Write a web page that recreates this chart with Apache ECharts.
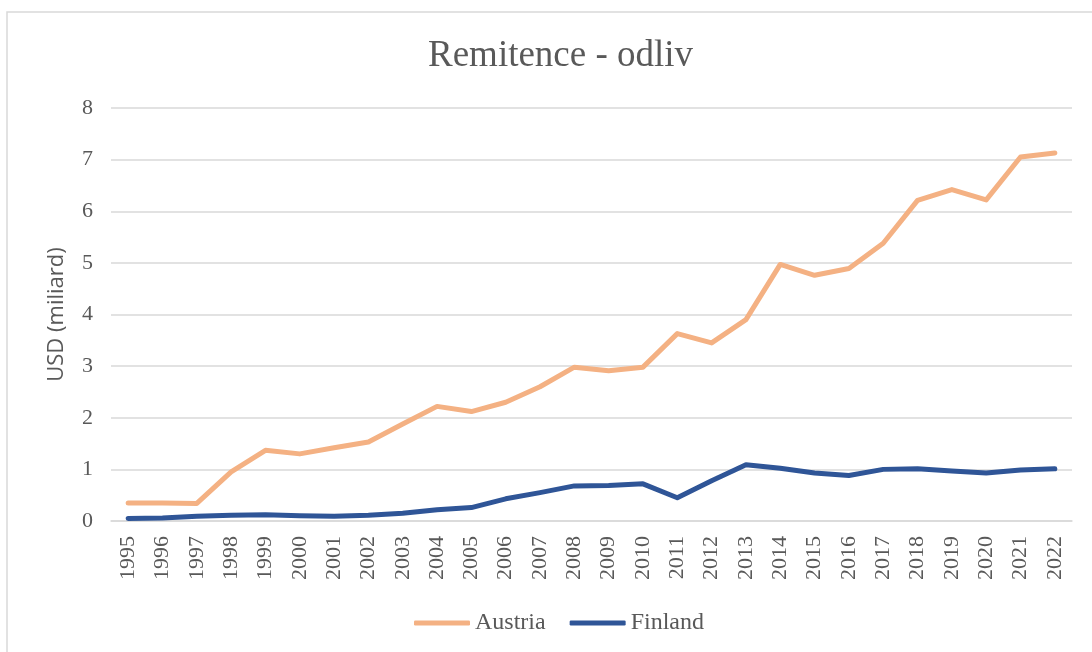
<!DOCTYPE html>
<html>
<head>
<meta charset="utf-8">
<script src="https://cdn.jsdelivr.net/npm/echarts@6/dist/echarts.min.js"></script>
<style>
  html, body { margin: 0; padding: 0; background: #fff; }
  #chart { width: 1092px; height: 652px; }
</style>
</head>
<body>
<div id="chart"></div>
<script>
var years = ['1995', '1996', '1997', '1998', '1999', '2000', '2001', '2002', '2003', '2004',
    '2005', '2006', '2007', '2008', '2009', '2010', '2011', '2012', '2013', '2014',
    '2015', '2016', '2017', '2018', '2019', '2020', '2021', '2022'];
var austria = [0.35, 0.35, 0.34, 0.95, 1.37, 1.30, 1.42, 1.53, 1.88, 2.22,
    2.12, 2.30, 2.60, 2.98, 2.91, 2.98, 3.63, 3.45, 3.90, 4.97,
    4.76, 4.89, 5.38, 6.21, 6.42, 6.22, 7.05, 7.13];
var finland = [0.05, 0.06, 0.09, 0.11, 0.12, 0.10, 0.09, 0.11, 0.15, 0.22,
    0.26, 0.43, 0.55, 0.68, 0.69, 0.72, 0.45, 0.78, 1.09, 1.02,
    0.93, 0.88, 1.00, 1.01, 0.97, 0.93, 0.99, 1.01];

var chartDom = document.getElementById('chart');
var myChart = echarts.init(chartDom);
var serif = '"Liberation Serif", "Times New Roman", serif';
var textGray = '#595959';

var option = {
    animation: false,
    graphic: [
        {
            type: 'rect',
            shape: { x: 7, y: 12, width: 1200, height: 800 },
            style: { fill: 'none', stroke: '#d9d9d9', lineWidth: 1.5 },
            silent: true
        }
    ],
    title: {
        text: 'Remitence - odliv',
        left: 423,
        top: 33,
        textStyle: {
            fontFamily: serif,
            fontSize: 37,
            fontWeight: 'normal',
            color: textGray
        }
    },
    legend: {
        bottom: 12,
        left: 409,
        itemWidth: 56,
        itemHeight: 5,
        itemGap: 24,
        icon: 'roundRect',
        textStyle: {
            fontFamily: serif,
            fontSize: 24,
            color: textGray
        },
        data: ['Austria', 'Finland']
    },
    grid: {
        left: 111,
        right: 20,
        top: 108,
        bottom: 131
    },
    xAxis: {
        type: 'category',
        data: years,
        boundaryGap: true,
        axisLine: { lineStyle: { color: '#d9d9d9', width: 1.5 } },
        axisTick: { show: false },
        axisLabel: {
            rotate: 90,
            margin: 15,
            fontFamily: serif,
            fontSize: 22,
            color: textGray
        }
    },
    yAxis: {
        type: 'value',
        min: 0,
        max: 8,
        interval: 1,
        name: 'USD (miliard)',
        nameLocation: 'middle',
        nameGap: 43,
        nameTextStyle: {
            fontFamily: '"Open Sans", "Liberation Sans", sans-serif',
            fontSize: 22,
            color: textGray
        },
        axisLine: { show: false },
        axisTick: { show: false },
        splitLine: { lineStyle: { color: '#d9d9d9', width: 1.5 } },
        axisLabel: {
            margin: 18,
            fontFamily: serif,
            fontSize: 22,
            color: textGray
        }
    },
    series: [
        {
            name: 'Austria',
            type: 'line',
            data: austria,
            symbol: 'none',
            lineStyle: { color: '#F4B183', width: 5, cap: 'round', join: 'round' },
            itemStyle: { color: '#F4B183' }
        },
        {
            name: 'Finland',
            type: 'line',
            data: finland,
            symbol: 'none',
            lineStyle: { color: '#2F5597', width: 5, cap: 'round', join: 'round' },
            itemStyle: { color: '#2F5597' }
        }
    ]
};

option && myChart.setOption(option);

window.addEventListener('resize', function () {
    myChart.resize();
});
</script>
</body>
</html>
